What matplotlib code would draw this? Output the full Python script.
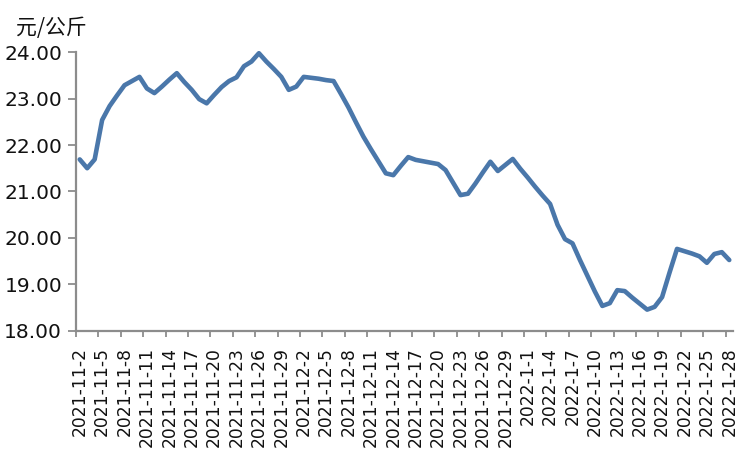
import matplotlib
matplotlib.use("Agg")
import matplotlib.pyplot as plt
from matplotlib.ticker import FixedLocator, FixedFormatter
import pandas as pd

plt.rcParams['font.family'] = ['DejaVu Sans', 'Noto Sans CJK SC']

start_date = "2021-11-02"
end_date = "2022-01-28"
unit_label = "元/公斤"
prices = [
    21.69, 21.50, 21.69, 22.54, 22.84, 23.07, 23.29, 23.38, 23.47, 23.22,
    23.12, 23.26, 23.41, 23.55, 23.36, 23.19, 22.99, 22.90, 23.08, 23.25,
    23.38, 23.46, 23.70, 23.80, 23.98, 23.80, 23.64, 23.47, 23.19, 23.26,
    23.47, 23.45, 23.43, 23.40, 23.38, 23.10, 22.81, 22.49, 22.18, 21.91,
    21.65, 21.39, 21.35, 21.55, 21.74, 21.68, 21.65, 21.62, 21.59, 21.46,
    21.19, 20.92, 20.95, 21.17, 21.41, 21.64, 21.44, 21.57, 21.70, 21.49,
    21.30, 21.10, 20.91, 20.73, 20.28, 19.97, 19.88, 19.52, 19.18, 18.84,
    18.53, 18.59, 18.87, 18.85, 18.71, 18.58, 18.45, 18.51, 18.72, 19.25,
    19.76, 19.71, 19.66, 19.60, 19.46, 19.65, 19.69, 19.52,
]
y_ticks = [18, 19, 20, 21, 22, 23, 24]

dates = pd.date_range(start_date, end_date, freq="D")
labels = [f"{d.year}-{d.month}-{d.day}" for d in dates]
n = len(labels)
xs = list(range(n))

fig = plt.figure(figsize=(7.52, 4.50), dpi=100)
ax = fig.add_axes([76/752, 1-330.5/450, (733-76)/752, (330.5-52.3)/450])

line_color = '#4a77aa'
axis_color = '#8c8c8c'
ax.plot(xs, prices, color=line_color, lw=3.3, solid_joinstyle='round',
        solid_capstyle='round', zorder=3, clip_on=False)

ax.set_xlim(-0.5, n - 0.5)
ax.set_ylim(18, 24)

# labels every 3 categories at category centres, tick marks at boundaries
lab_pos = xs[::3]
ax.xaxis.set_major_locator(FixedLocator(lab_pos))
ax.xaxis.set_major_formatter(FixedFormatter([labels[i] for i in lab_pos]))
ax.xaxis.set_minor_locator(FixedLocator([p - 0.5 for p in lab_pos]))
ax.tick_params(axis='x', which='major', length=0, pad=12, labelsize=12.3,
               labelrotation=90, labelcolor='#111111')
ax.tick_params(axis='x', which='minor', length=4, width=1.3, color=axis_color,
               direction='out')

ax.set_yticks(y_ticks)
ax.set_yticklabels([f"{v:.2f}" for v in y_ticks])
ax.tick_params(axis='y', which='major', length=5.5, width=1.3, color=axis_color,
               direction='out', pad=4.5, labelsize=14.5, labelcolor='#111111')

for s in ['top', 'right']:
    ax.spines[s].set_visible(False)
for s in ['left', 'bottom']:
    ax.spines[s].set_color(axis_color)
    ax.spines[s].set_linewidth(1.6)

fig.text(16/752, 1-28.5/450, unit_label, fontsize=15, ha='left', va='center',
         color='#111111', family=['Noto Sans CJK SC', 'DejaVu Sans'])

fig.savefig("out.png", dpi=100)
